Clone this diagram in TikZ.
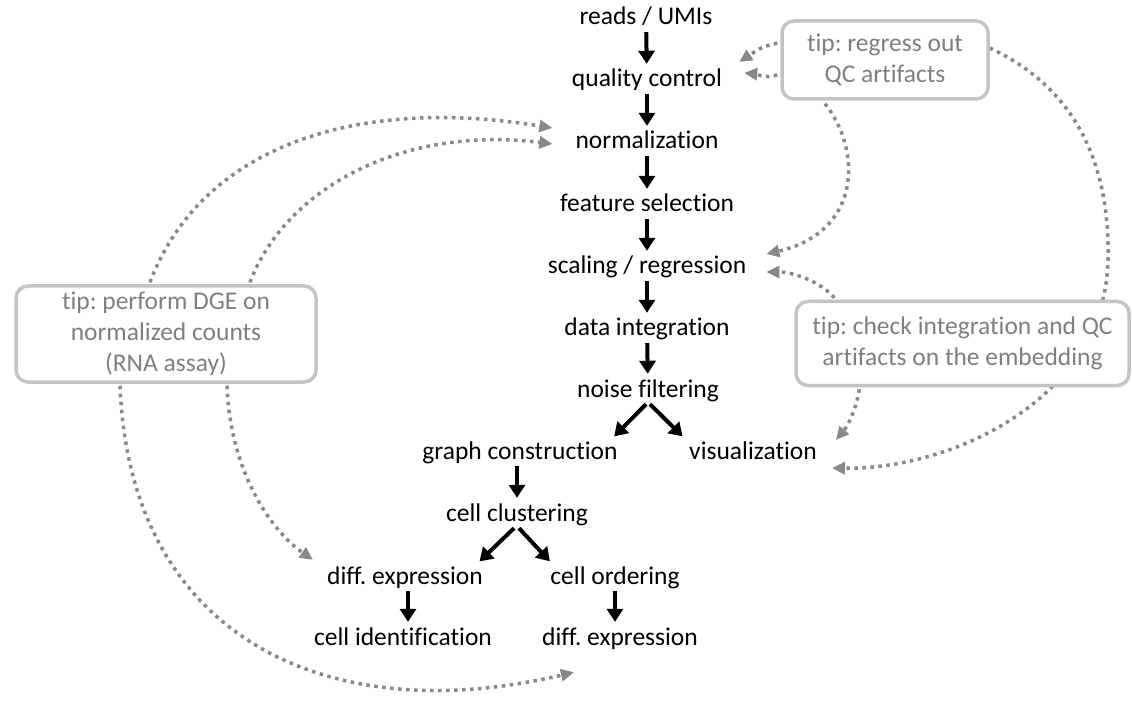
\documentclass[tikz,border=0pt]{standalone}
\usepackage{fontspec}
\setmainfont{Carlito}[Ligatures={NoCommon,NoRequired,NoContextual}]
\usetikzlibrary{arrows.meta,calc,backgrounds}
\definecolor{dotgray}{HTML}{888888}
\definecolor{boxgray}{HTML}{C4C4C4}
\definecolor{tipgray}{HTML}{7F7F7F}
\frenchspacing
\begin{document}
\frenchspacing
\begin{tikzpicture}[x=1pt,y=-1pt,
  stage/.style={inner xsep=3pt, inner ysep=4pt, text height=17pt, text depth=3pt,
    font=\fontsize{25.5}{31}\selectfont},
  tipbox/.style={draw=boxgray, line width=3.5pt, rounded corners=12pt, fill=white,
    text=tipgray, align=center, font=\fontsize{25.5}{31}\selectfont, inner sep=0pt},
  flow/.style={line width=4pt, -{Triangle[length=13pt,width=16pt]}, shorten >=2pt},
  hint/.style={dotgray, line width=3.5pt, dash pattern=on 3.5pt off 4.5pt,
    -{Triangle[length=13pt,width=12pt]}},
]
\useasboundingbox (0,0) rectangle (1132,708);

% pipeline stages
\node[stage] (reads)  at (646,18)  {reads / UMIs};
\node[stage] (qc)     at (647,80)  {quality control};
\node[stage] (norm)   at (647,142) {normalization};
\node[stage] (feat)   at (647,205) {feature selection};
\node[stage] (scal)   at (647,267) {scaling / regression};
\node[stage] (integ)  at (647,329) {data integration};
\node[stage] (noise)  at (648,390) {noise filtering};
\node[stage] (graph)  at (520,452) {graph construction};
\node[stage] (vis)    at (753,452) {visualization};
\node[stage] (clust)  at (517,514) {cell clustering};
\node[stage] (dexpa)  at (405,577) {diff. expression};
\node[stage] (cellid) at (403,638) {cell identification};
\node[stage] (order)  at (615,577) {cell ordering};
\node[stage] (dexpb)  at (620,638) {diff. expression};

% tip boxes
\node[tipbox, minimum width=206pt, minimum height=78pt] (rg) at (885,60)
  {tip: regress out\\QC artifacts};
\node[tipbox, minimum width=300pt, minimum height=96pt] (dge) at (166,334)
  {tip: perform DGE on\\normalized counts\\(RNA assay)};
\node[tipbox, minimum width=333pt, minimum height=84pt] (chk) at (962.5,343.5)
  {tip: check integration and QC\\artifacts on the embedding};

% black flow arrows
\coordinate (dxa) at ($(dexpa.south)+(3,0)$);
\draw[flow] (reads) -- (qc);
\draw[flow] (qc) -- (norm);
\draw[flow] (norm) -- (feat);
\draw[flow] (feat) -- (scal);
\draw[flow] (scal) -- (integ);
\draw[flow] (integ) -- (noise);
\draw[flow] ($(noise.south)+(-2,0)$) -- ($(graph.north east)+(-8,0)$);
\draw[flow] ($(noise.south)+(2,0)$) -- ($(vis.north west)+(-2,0)$);
\draw[flow] (clust.north |- graph.south) -- (clust.north);
\draw[flow] ($(clust.south)+(-3,0)$) -- ($(dexpa.north east)+(-8,0)$);
\draw[flow] ($(clust.south)+(2,0)$) -- ($(order.north west)+(4,0)$);
\draw[flow] (dxa) -- (dxa |- cellid.north);
\draw[flow] (order.south) -- (order.south |- dexpb.north);

% grey dotted hints
\begin{scope}[on background layer]
\draw[hint] ($(rg.west)+(-3,-17)$) .. controls (762,47) .. ($(qc.east)+(14,-18)$);
\draw[hint] ($(rg.west)+(-3,15)$) .. controls (765,79) and (756,74) .. ($(qc.east)+(19,-7)$);
\draw[hint] ($(rg.south)+(-60,3)$) .. controls (862,150) and (862,232) .. ($(scal.east)+(17,-13)$);
\draw[hint] ($(rg.east)+(0,-12)$) .. controls (1080,90) and (1110,170) .. (1108,260)
  .. controls (1105,400) and (950,470) .. ($(vis.east)+(12,16)$);
\draw[hint] ($(chk.north west)+(40,-2)$) .. controls (822,283) and (795,272) .. ($(scal.east)+(17,5)$);
\draw[hint] ($(chk.south west)+(65,2)$) .. controls (856,412) and (846,428) .. ($(vis.east)+(16,-12)$);
\draw[hint] ($(dge.north)+(-16,-2)$) .. controls (200,150) and (350,95) .. ($(norm.west)+(-20,-14)$);
\draw[hint] ($(dge.north)+(84,-2)$) .. controls (285,190) and (400,125) .. ($(norm.west)+(-20,2)$);
\draw[hint] ($(dge.south)+(-46,2)$) .. controls (130,640) and (330,730) .. ($(dexpb.south west)+(35,20)$);
\draw[hint] ($(dge.south)+(61,2)$) .. controls (230,470) and (270,530) .. ($(dexpa.north west)+(-11,-3)$);
\end{scope}
\end{tikzpicture}
\end{document}
